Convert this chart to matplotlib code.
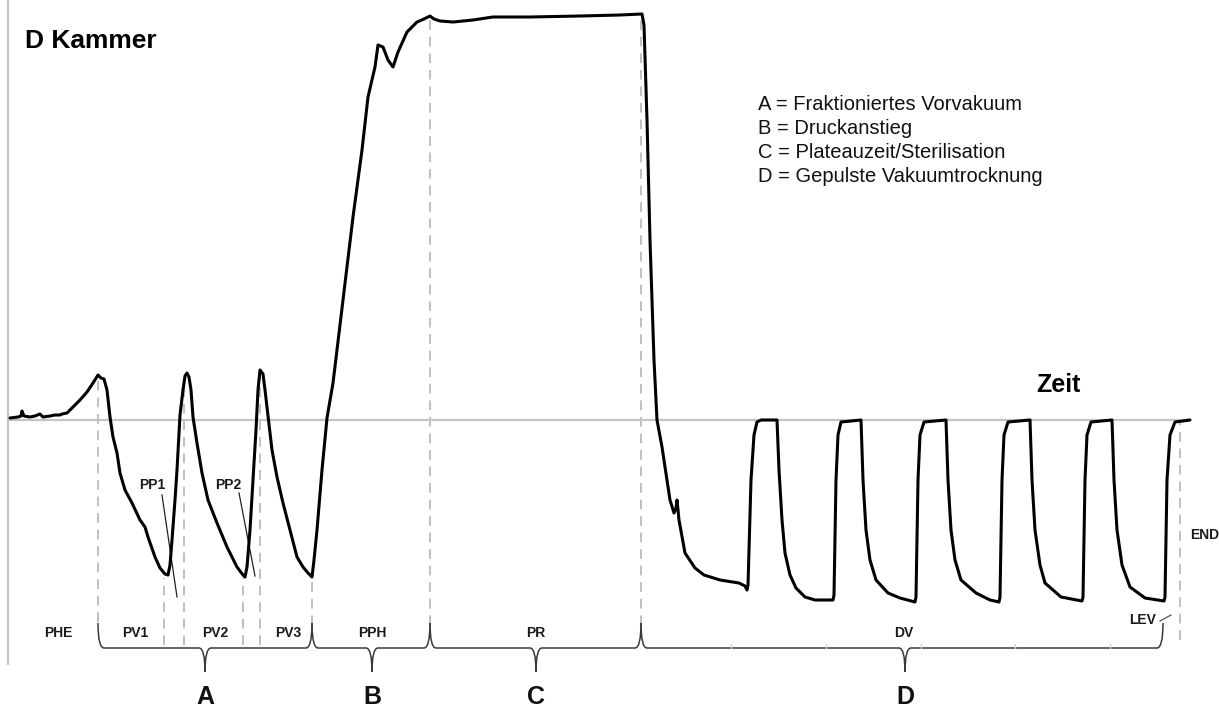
import matplotlib
matplotlib.use("Agg")
import matplotlib.pyplot as plt
from matplotlib.path import Path
from matplotlib.patches import PathPatch
from matplotlib import font_manager

# ---------------------------------------------------------------------------
# Chamber pressure trace (time in arbitrary units, pressure relative to
# atmospheric = 0, positive = overpressure, negative = vacuum)
# ---------------------------------------------------------------------------
time = [
    10, 18, 21, 22, 24, 30, 35, 40, 43, 50, 55, 60, 62, 67, 72, 75, 80, 87, 93, 98, 101, 104,
    107, 110, 113, 117, 120, 125, 132, 140, 145, 148, 155, 160, 165, 168,
    170, 172, 175, 177, 180, 183, 185, 187, 189,
    191, 193, 197, 202, 208, 217, 227, 237, 243, 245,
    247, 250, 253, 256, 258, 260, 263,
    265, 267, 272, 277, 283, 290, 297, 303, 308, 312,
    314, 317, 322, 327, 333, 343, 353, 362, 368, 375, 378, 383, 388, 393, 398, 407, 417, 424,
    430, 434, 440, 453, 473, 493, 530, 580, 620, 642,
    644, 647, 650, 654, 657, 662, 667, 670, 674, 676, 677, 679, 685, 695, 704, 720, 739, 745, 747,
    748, 751, 754, 757, 761, 777, 779, 782, 785, 790, 796, 805, 815, 833,
    834, 836, 838, 841, 861, 863, 866, 870, 876, 888, 900, 915,
    916, 918, 920, 924, 946, 948, 951, 955, 961, 976, 990, 999,
    1000, 1002, 1004, 1008, 1030, 1032, 1035, 1040, 1045, 1061, 1082,
    1083, 1085, 1087, 1091, 1112, 1114, 1117, 1122, 1130, 1145, 1164,
    1165, 1167, 1170, 1175, 1190,
]
pressure = [
    2, 3, 4, 9, 4, 3, 4, 6, 3, 4, 5, 5, 6, 7, 12, 15, 20, 28, 37, 45, 42, 41,
    30, 3, -17, -33, -53, -70, -83, -100, -107, -117, -137, -148, -154, -155,
    -145, -120, -80, -50, 5, 30, 44, 47, 43,
    30, 3, -23, -53, -80, -103, -127, -147, -155, -157,
    -147, -110, -60, -10, 30, 50, 46,
    30, 13, -30, -57, -83, -110, -137, -147, -153, -157,
    -140, -110, -50, 2, 37, 120, 203, 270, 323, 353, 375, 373, 360, 353, 368, 388, 398, 401,
    404, 401, 399, 398, 400, 403, 403, 404, 405, 406,
    395, 300, 180, 60, 0, -27, -60, -80, -93, -88, -80, -100, -133, -148, -155, -160, -163, -166, -170,
    -165, -60, -15, -2, 0, 0, -50, -100, -133, -155, -168, -177, -180, -180,
    -175, -60, -15, -2, 0, -60, -110, -140, -160, -173, -178, -182,
    -177, -60, -15, -2, 0, -60, -110, -140, -160, -173, -180, -182,
    -177, -60, -15, -2, 0, -60, -110, -145, -163, -177, -181,
    -177, -60, -15, -2, 0, -60, -110, -145, -167, -178, -181,
    -177, -60, -15, -2, 0,
]

# Phase boundaries (dashed markers): time, upper and lower pressure
marker_time = [98, 164, 184, 243, 260, 312, 430, 641, 1180]
marker_top = [42, -158, 40, -158, 45, -158, 403, 403, 0]
marker_bottom = [-202, -225, -225, -225, -225, -205, -205, -205, -220]

# Sub-phase labels
phase_names = ["PHE", "PV1", "PV2", "PV3", "PPH", "PR", "DV"]
phase_centres = [58, 135, 215, 288, 372, 536, 904]

# Main phases (curly braces) and their legend
brace_names = ["A", "B", "C", "D"]
brace_start = [98, 312, 430, 641]
brace_end = [312, 430, 641, 1163]
brace_mid = [205, 372, 536, 905]
legend_lines = [
    "A = Fraktioniertes Vorvakuum",
    "B = Druckanstieg",
    "C = Plateauzeit/Sterilisation",
    "D = Gepulste Vakuumtrocknung",
]

# ---------------------------------------------------------------------------
available = {f.name for f in font_manager.fontManager.ttflist}
narrow = "Liberation Sans Narrow" if "Liberation Sans Narrow" in available else "Liberation Sans"
plt.rcParams["font.family"] = ["Liberation Sans", "DejaVu Sans"]

fig = plt.figure(figsize=(12.19, 7.10), dpi=100)
ax = fig.add_axes([0, 0, 1, 1])
ax.set_xlim(0, 1219)
ax.set_ylim(-290, 420)
ax.axis("off")

grey_axis = "#c4c4c4"
# axes: pressure (vertical) and time (horizontal at atmospheric pressure)
ax.plot([8, 8], [-245, 420], color=grey_axis, lw=1.6, solid_capstyle="butt")
ax.plot([8, 1190], [0, 0], color=grey_axis, lw=1.6, solid_capstyle="butt")

# dashed phase markers
for t, top, bot in zip(marker_time, marker_top, marker_bottom):
    ax.plot([t, t], [bot, top], color="#c0c0c0", lw=1.4, ls=(0, (5, 3.5)), zorder=1)

# pressure curve
ax.plot(time, pressure, color="black", lw=2.2, solid_joinstyle="round",
        solid_capstyle="round", zorder=3)

# curly braces below the curve
line_p, end_p, tip_p, r = -228, -203, -252, 6
for x0, x1, xc in zip(brace_start, brace_end, brace_mid):
    verts = [
        (x0, end_p), (x0, line_p), (x0 + r, line_p),
        (xc - r, line_p),
        (xc, line_p), (xc, tip_p),
        (xc, line_p), (xc + r, line_p),
        (x1 - r, line_p),
        (x1, line_p), (x1, end_p),
    ]
    codes = [Path.MOVETO, Path.CURVE3, Path.CURVE3, Path.LINETO,
             Path.CURVE3, Path.CURVE3, Path.CURVE3, Path.CURVE3,
             Path.LINETO, Path.CURVE3, Path.CURVE3]
    ax.add_patch(PathPatch(Path(verts, codes), fc="none", ec="#3a3a3a", lw=1.1, zorder=2))

# faint ticks on the drying brace
for t in [731, 826, 921, 1015, 1110]:
    ax.plot([t, t], [-228, -224], color="#d0d0d0", lw=1.0)

# labels of sub-phases
for name, xc in zip(phase_names, phase_centres):
    ax.text(xc, -213, name, ha="center", va="center",
            fontsize=10, fontweight="bold", color="#1a1a1a")

# brace letters
for name, xc in zip(brace_names, brace_mid):
    ax.text(xc, -277, name, ha="center", va="center", family=[narrow, "DejaVu Sans"],
            fontsize=18, fontweight="bold", color="#111111")

# annotations
ax.text(152, -65, "PP1", ha="center", va="center", fontsize=10, fontweight="bold", color="#1a1a1a")
ax.plot([162, 177], [-75, -177], color="#222222", lw=0.9)
ax.text(228, -65, "PP2", ha="center", va="center", fontsize=10, fontweight="bold", color="#1a1a1a")
ax.plot([239, 255], [-73, -156], color="#222222", lw=0.9)
ax.text(1143, -200, "LEV", ha="center", va="center", fontsize=10, fontweight="bold", color="#1a1a1a")
ax.plot([1160, 1171], [-201, -195], color="#555555", lw=0.9)
ax.text(1190, -115, "END", ha="left", va="center", fontsize=10, fontweight="bold", color="#1a1a1a")

# titles
ax.text(25, 372, "D Kammer", ha="left", va="baseline", fontsize=19, fontweight="bold")
ax.text(1058, 28, "Zeit", ha="center", va="baseline", fontsize=18, fontweight="bold")

# legend of main phases
for i, line in enumerate(legend_lines):
    ax.text(758, 310 - 24 * i, line, ha="left", va="baseline", fontsize=14.5, color="#111111")

fig.savefig("out.png", dpi=100)
